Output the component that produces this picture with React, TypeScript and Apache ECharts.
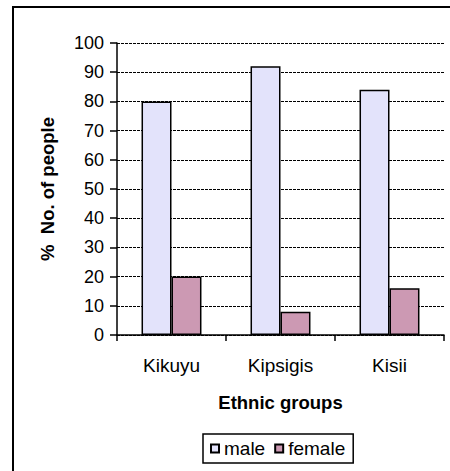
import React, { useEffect, useRef } from "react";
import * as echarts from "echarts";

const categories = ["Kikuyu", "Kipsigis", "Kisii"];
const maleValues = [80, 92, 84];
const femaleValues = [20, 8, 16];
const seriesNames = ["male", "female"];

const FONT = "'Liberation Sans', Arial, sans-serif";

export default function App() {
  const ref = useRef<HTMLDivElement>(null);
  useEffect(() => {
    if (!ref.current) return;
    const chart = echarts.init(ref.current, null, { renderer: "svg" });
    chart.setOption({
      animation: false,
      backgroundColor: "#ffffff",
      textStyle: { fontFamily: FONT, color: "#000" },
      graphic: [
        {
          type: "rect",
          shape: { x: 13, y: 7, width: 600, height: 600 },
          style: { fill: "none", stroke: "#000", lineWidth: 2 },
          silent: true,
        },
      ],
      grid: { left: 117, right: 6, top: 43, bottom: 136, containLabel: false },
      legend: {
        left: 203,
        top: 434,
        data: seriesNames,
        itemWidth: 8,
        itemHeight: 8,
        itemGap: 9,
        padding: [5, 8, 5, 7],
        borderColor: "#000",
        borderWidth: 1.5,
        icon: "rect",
        textStyle: { fontFamily: FONT, fontSize: 19, color: "#000" },
      },
      xAxis: {
        type: "category",
        data: categories,
        name: "Ethnic groups",
        nameLocation: "middle",
        nameGap: 58,
        nameTextStyle: { fontFamily: FONT, fontSize: 18.5, fontWeight: "bold", color: "#000" },
        axisLine: { show: true, lineStyle: { color: "#000", width: 1.5 } },
        axisTick: { show: true, length: 6, lineStyle: { color: "#000", width: 1.5 } },
        axisLabel: { fontFamily: FONT, fontSize: 19, color: "#000", margin: 21 },
        splitLine: { show: false },
      },
      yAxis: {
        type: "value",
        min: 0,
        max: 100,
        interval: 10,
        name: "%  No. of people",
        nameLocation: "middle",
        nameGap: 60,
        nameTextStyle: { fontFamily: FONT, fontSize: 18.5, fontWeight: "bold", color: "#000" },
        axisLine: { show: true, lineStyle: { color: "#000", width: 1.5 } },
        axisTick: { show: true, inside: false, length: 7, lineStyle: { color: "#000", width: 1.5 } },
        axisLabel: { fontFamily: FONT, fontSize: 18, color: "#000", margin: 13 },
        splitLine: { show: true, lineStyle: { color: "#000", type: [3, 1], width: 1 } },
      },
      series: [
        {
          name: seriesNames[0],
          type: "bar",
          data: maleValues,
          barGap: "0%",
          barCategoryGap: "45%",
          itemStyle: { color: "#E3E3FB", borderColor: "#000", borderWidth: 1.5 },
        },
        {
          name: seriesNames[1],
          type: "bar",
          data: femaleValues,
          barGap: "0%",
          barCategoryGap: "45%",
          itemStyle: { color: "#CC99B3", borderColor: "#000", borderWidth: 1.5 },
        },
      ],
    });
    return () => chart.dispose();
  }, []);
  return (
    <div
      ref={ref}
      style={{ position: "fixed", left: 0, top: 0, width: 450, height: 471 }}
    />
  );
}
